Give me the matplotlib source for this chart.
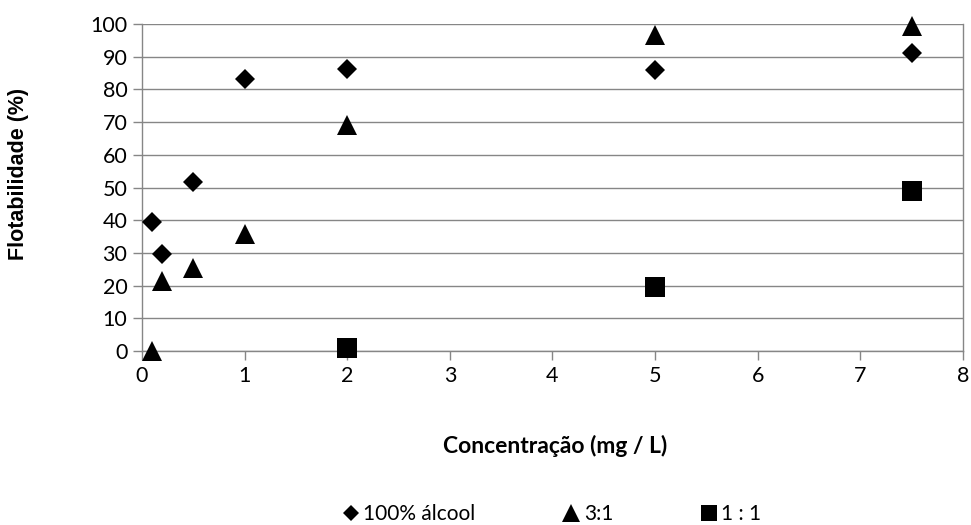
import matplotlib
matplotlib.use("Agg")
import matplotlib.pyplot as plt

# data
conc_alc = [0.1, 0.2, 0.5, 1, 2, 5, 7.5]
flot_alc = [39.4, 29.6, 51.8, 83.2, 86.1, 85.8, 91.0]
conc_31 = [0.1, 0.2, 0.5, 1, 2, 5, 7.5]
flot_31 = [0.0, 21.5, 25.3, 35.7, 69.2, 96.5, 99.5]
conc_11 = [2, 5, 7.5]
flot_11 = [0.8, 19.7, 49.0]

labels = ["100% álcool", "3:1", "1 : 1"]
xticks = list(range(0, 9))
yticks = list(range(0, 101, 10))

GRID = "#868686"
W, H = 971, 525
plt.rcParams["font.family"] = ["Lato", "DejaVu Sans"]

fig = plt.figure(figsize=(W / 100, H / 100), dpi=100)
ax = fig.add_axes([0.1462, 0.3314, 0.8456, 0.6229])

kw = dict(ls="none", color="black", mew=0, clip_on=False, zorder=3)
h1, = ax.plot(conc_alc, flot_alc, marker="D", ms=10, label=labels[0], **kw)
h2, = ax.plot(conc_31, flot_31, marker="^", ms=14.5, label=labels[1], **kw)
h3, = ax.plot(conc_11, flot_11, marker="s", ms=14, label=labels[2], **kw)

ax.set_xlim(0, 8)
ax.set_ylim(0, 100)
ax.set_xticks(xticks)
ax.set_yticks(yticks)
ax.yaxis.grid(True, color=GRID, lw=1)
ax.set_axisbelow(True)
for s in ["left", "bottom", "right"]:
    ax.spines[s].set_color(GRID)
    ax.spines[s].set_linewidth(1)
ax.spines["top"].set_visible(False)
ax.tick_params(axis="both", direction="out", length=6.5, color=GRID, width=1,
               labelsize=15.5, pad=4)

# axis titles placed in figure pixels like the original
fig.text(555 / W, 1 - 446 / H, "Concentração (mg / L)", fontsize=16.5,
         fontweight="bold", ha="center", va="center")
fig.text(19 / W, 1 - 174 / H, "Flotabilidade (%)", fontsize=15.5,
         fontweight="bold", family="Liberation Sans", rotation=90,
         ha="center", va="center")

fig.legend(handles=[h1, h2, h3], loc="center", bbox_to_anchor=(553 / W, 1 - 514 / H),
           ncol=3, frameon=False, fontsize=15, markerscale=0.85,
           handlelength=0.6, handletextpad=0.3, columnspacing=4.3,
           borderpad=0.1)

fig.savefig("out.png", dpi=100)
